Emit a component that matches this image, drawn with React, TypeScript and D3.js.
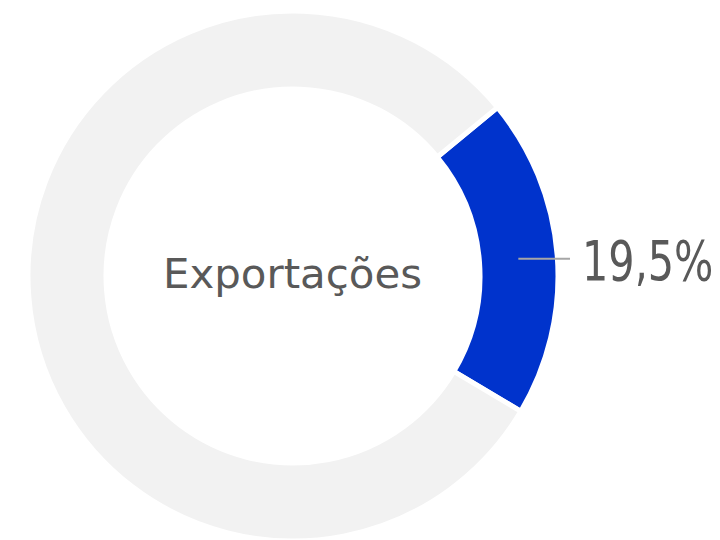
import React from "react";
import * as d3 from "d3";

const categories = ["Exportações", "Outros"];
const values = [19.5, 80.5];
const colors = ["#0033CC", "#F2F2F2"];
const labelText = "19,5%";
const centerText = "Exportações";

export default function App() {
  const W = 720, H = 540;
  const cx = 293, cy = 276, R = 265, r = 187;
  const start = (50.5 * Math.PI) / 180;
  const pie = d3.pie<number>().sort(null).value((d) => d).startAngle(start).endAngle(start + 2 * Math.PI);
  const arcs = pie(values);
  const arc = d3.arc<d3.PieArcDatum<number>>().innerRadius(r).outerRadius(R);
  const a0 = arcs[0];
  const mid = (a0.startAngle + a0.endAngle) / 2;
  const rm = (R + r) / 2;
  const lx = Math.sin(mid) * rm, ly = -Math.cos(mid) * rm;
  return (
    <svg width={W} height={H} style={{ position: "absolute", left: 0, top: 0 }}>
      <g transform={`translate(${cx},${cy})`}>
        {arcs.map((a, i) => (
          <path key={categories[i]} d={arc(a) || ""} fill={colors[i]} stroke="#fff" strokeWidth={5} />
        ))}
        <line x1={lx} y1={ly} x2={277} y2={ly} stroke="#A6A6A6" strokeWidth={2} />
        <g transform={`translate(289,${ly + 21}) scale(1,1.18)`}>
          <text x={0} y={0} fontFamily="DejaVu Sans Condensed" fontSize={46} fill="#595959">{labelText}</text>
        </g>
        <text x={-130} y={12} fontFamily="DejaVu Sans Condensed" fontSize={41} fill="#595959"
          textLength={259} lengthAdjust="spacingAndGlyphs">{centerText}</text>
      </g>
    </svg>
  );
}
